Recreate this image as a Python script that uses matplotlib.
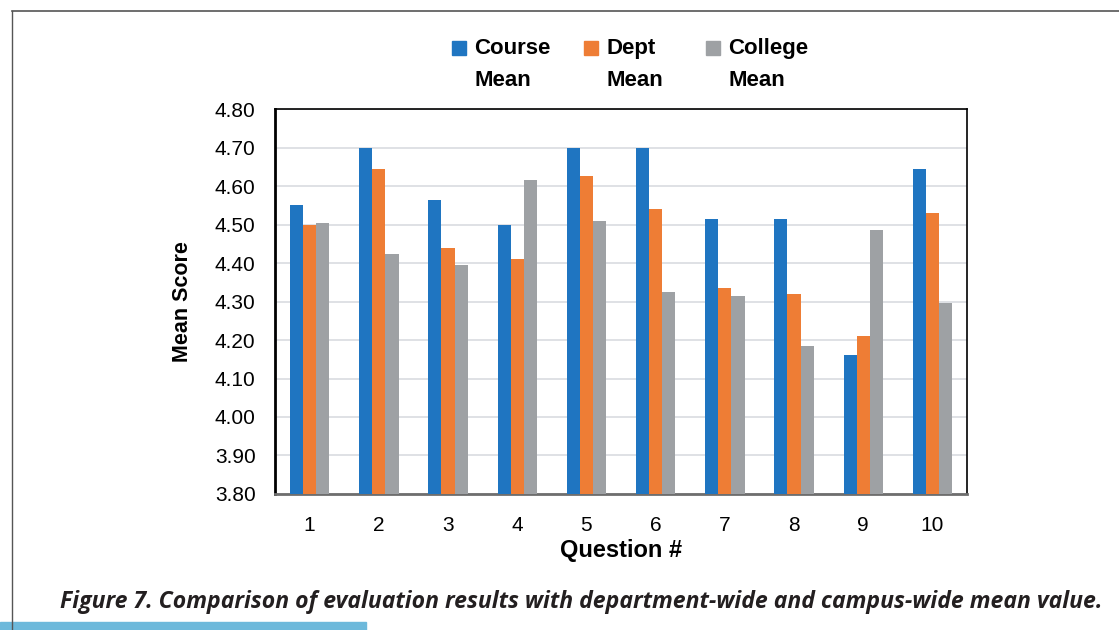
import numpy as np
import matplotlib
matplotlib.use("Agg")
from matplotlib import pyplot as plt
from matplotlib.lines import Line2D
from matplotlib.patches import Rectangle

questions = ['1', '2', '3', '4', '5', '6', '7', '8', '9', '10']
course_mean = [4.55, 4.70, 4.565, 4.50, 4.70, 4.70, 4.515, 4.515, 4.16, 4.645]
dept_mean = [4.50, 4.645, 4.44, 4.41, 4.625, 4.54, 4.335, 4.32, 4.21, 4.53]
college_mean = [4.505, 4.423, 4.395, 4.615, 4.51, 4.325, 4.315, 4.185, 4.485, 4.295]
series_names = ['Course\nMean', 'Dept\nMean', 'College\nMean']
colors = ['#1F75C1', '#EE7D35', '#9EA1A4']
yticks = [3.80, 3.90, 4.00, 4.10, 4.20, 4.30, 4.40, 4.50, 4.60, 4.70, 4.80]

plt.rcParams['font.family'] = ['Liberation Sans', 'DejaVu Sans']

fig = plt.figure(figsize=(11.19, 6.30), dpi=100)
ax = fig.add_axes([0.2458, 0.2159, 0.6184, 0.611])

x = np.arange(len(questions))
w = 0.19
for i, (vals, c) in enumerate(zip([course_mean, dept_mean, college_mean], colors)):
    ax.bar(x + (i - 1) * w, np.array(vals) - 3.8, w, bottom=3.8, color=c, zorder=3)

ax.set_ylim(3.8, 4.8)
ax.set_xlim(-0.5, len(questions) - 0.5)
ax.set_yticks(yticks)
ax.set_yticklabels(['%.2f' % t for t in yticks], fontsize=15)
ax.set_xticks(x)
ax.set_xticklabels(questions, fontsize=15)
ax.tick_params(axis='y', length=0, pad=14)
ax.tick_params(axis='x', length=0, pad=16)
ax.yaxis.grid(True, color='#D9DCE0', lw=1.2, zorder=0)

for s in ['top', 'right']:
    ax.spines[s].set_color('black')
    ax.spines[s].set_linewidth(1.2)
ax.spines['left'].set_color('black')
ax.spines['left'].set_linewidth(2)
ax.spines['bottom'].set_color('#6E6E6E')
ax.spines['bottom'].set_linewidth(2)

ax.set_ylabel('Mean Score', fontsize=15.5, fontweight='bold', labelpad=16)
ax.set_xlabel('Question #', fontsize=17, fontweight='bold', labelpad=3)

# legend: square beside first line, label on two lines
leg_x = [0.4236, 0.5416, 0.6506]
for lx, name, c in zip(leg_x, series_names, colors):
    fig.add_artist(Rectangle((lx - 0.0197, 0.9127), 0.0125, 0.0222, color=c,
                             transform=fig.transFigure))
    fig.text(lx, 0.939, name, fontsize=16, fontweight='bold', va='top', ha='left',
             linespacing=1.66)

fig.text(0.054, 0.045, 'Figure 7. Comparison of evaluation results with department-wide and campus-wide mean value.',
         fontsize=16.6, fontweight='bold', style='italic', color='#231F20',
         family=['Open Sans', 'DejaVu Sans'], va='center')

fig.add_artist(Line2D([0.0107, 1.0], [0.9825, 0.9825], color='#555555', lw=1.2))
fig.add_artist(Line2D([0.0107, 0.0107], [0.0, 0.9825], color='#555555', lw=1.0))
fig.add_artist(Rectangle((0, 0), 0.327, 0.013, color='#6DB9DB', transform=fig.transFigure))

fig.savefig('out.png', dpi=100)
